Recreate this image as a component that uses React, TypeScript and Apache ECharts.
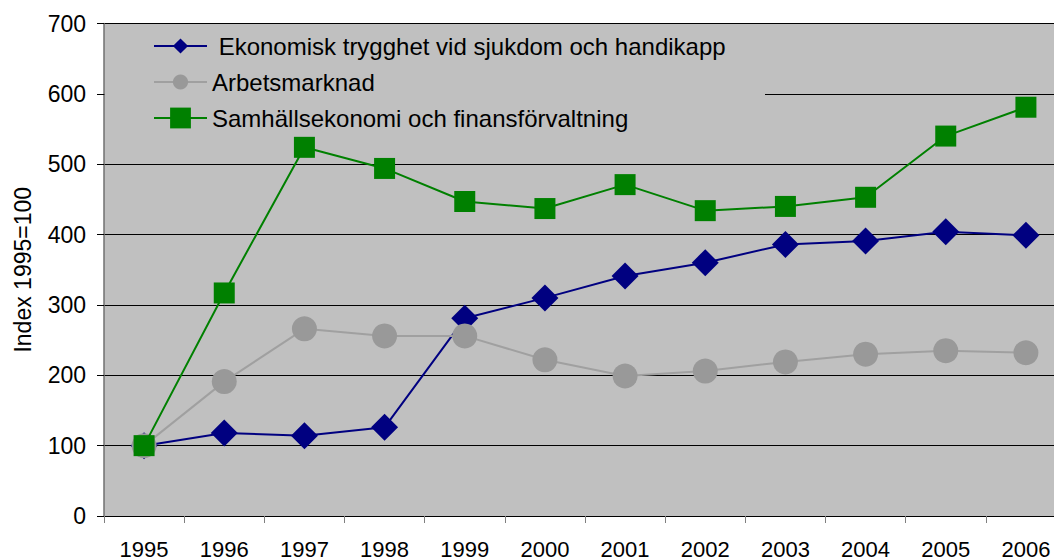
import React, { useEffect, useRef } from "react";
import * as echarts from "echarts";

const years = ["1995", "1996", "1997", "1998", "1999", "2000", "2001", "2002", "2003", "2004", "2005", "2006"];
const ekonomisk = [100, 118, 114, 126, 281, 310, 341, 360, 386, 391, 404, 399];
const arbetsmarknad = [100, 191, 266, 256, 256, 222, 199, 206, 219, 230, 235, 232];
const samhall = [100, 317, 524, 494, 447, 437, 471, 434, 440, 453, 540, 581];
const seriesNames = [
  " Ekonomisk trygghet vid sjukdom och handikapp",
  "Arbetsmarknad",
  "Samhällsekonomi och finansförvaltning",
];
const yAxisName = "Index 1995=100";
const yMin = 0;
const yMax = 700;
const yInterval = 100;

const FONT = "'Liberation Sans', Arial, sans-serif";

export default function App() {
  const ref = useRef<HTMLDivElement>(null);
  useEffect(() => {
    document.body.style.margin = "0";
    const chart = echarts.init(ref.current!, undefined, { renderer: "svg" });
    const legendBase = {
      left: 153,
      orient: "horizontal",
      itemWidth: 53,
      padding: 0,
      selectedMode: false,
      textStyle: { fontSize: 24, color: "#000", fontFamily: FONT },
    };
    chart.setOption({
      animation: false,
      textStyle: { fontFamily: FONT },
      grid: {
        left: 104,
        top: 23.5,
        right: 0,
        bottom: 43.5,
        show: true,
        backgroundColor: "#c0c0c0",
        borderWidth: 0,
      },
      graphic: [
        {
          type: "rect",
          z: 1,
          silent: true,
          shape: { x: 105, y: 27, width: 660, height: 103 },
          style: { fill: "#c0c0c0" },
        },
      ],
      legend: [
        { ...legendBase, data: [seriesNames[0]], top: 34, itemHeight: 19 },
        { ...legendBase, data: [seriesNames[1]], top: 70, itemHeight: 19 },
        { ...legendBase, data: [seriesNames[2]], top: 106, itemHeight: 26 },
      ],
      xAxis: {
        type: "category",
        data: years,
        boundaryGap: true,
        axisLine: { show: true, lineStyle: { color: "#000", width: 1 } },
        axisTick: { show: true, length: 7, lineStyle: { color: "#808080", width: 1 } },
        axisLabel: { fontSize: 22, color: "#000", margin: 22, fontFamily: FONT },
        splitLine: { show: false },
      },
      yAxis: {
        type: "value",
        min: yMin,
        max: yMax,
        interval: yInterval,
        name: yAxisName,
        nameLocation: "middle",
        nameGap: 70,
        nameRotate: 90,
        nameTextStyle: { fontSize: 23, color: "#000", fontFamily: FONT },
        axisLine: { show: true, lineStyle: { color: "#707070", width: 1.5 } },
        axisTick: { show: true, length: 7, lineStyle: { color: "#000", width: 1 } },
        axisLabel: { fontSize: 23, color: "#000", margin: 18, fontFamily: FONT },
        splitLine: { show: true, lineStyle: { color: "#000", width: 1 } },
      },
      series: [
        {
          name: seriesNames[0],
          type: "line",
          data: ekonomisk,
          symbol: "diamond",
          symbolSize: 27,
          lineStyle: { color: "#000080", width: 2 },
          itemStyle: { color: "#000080" },
          z: 2,
        },
        {
          name: seriesNames[1],
          type: "line",
          data: arbetsmarknad,
          symbol: "circle",
          symbolSize: 25,
          lineStyle: { color: "#a0a0a0", width: 2 },
          itemStyle: { color: "#999999" },
          z: 3,
        },
        {
          name: seriesNames[2],
          type: "line",
          data: samhall,
          symbol: "rect",
          symbolSize: 21,
          lineStyle: { color: "#008000", width: 2 },
          itemStyle: { color: "#008000" },
          z: 4,
        },
      ],
    });
    return () => chart.dispose();
  }, []);
  return (
    <div
      style={{ position: "absolute", left: 0, top: 0, width: 1054, height: 560, overflow: "hidden" }}
    >
      <div ref={ref} style={{ width: 1066, height: 560 }} />
    </div>
  );
}
